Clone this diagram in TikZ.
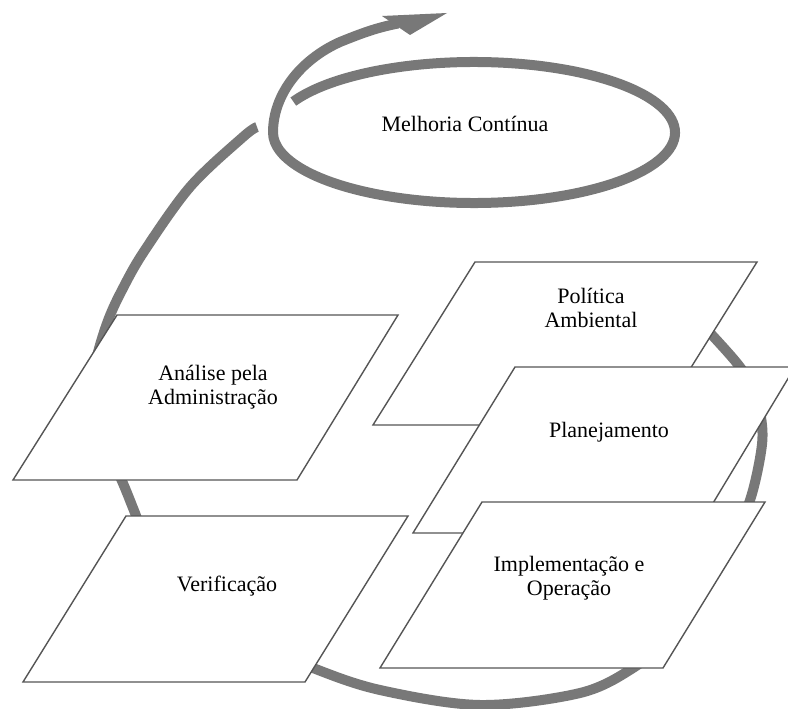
\documentclass[tikz,border=0pt]{standalone}
\usepackage{fontspec}
\setmainfont{Liberation Serif}
\definecolor{cyclegray}{RGB}{120,120,120}
\definecolor{edgegray}{RGB}{85,85,85}
\begin{document}
\begin{tikzpicture}[x=1pt,y=-1pt,
  cyclestroke/.style={draw=cyclegray,line width=10pt,line join=round},
  paral/.style={draw=edgegray,fill=white,line width=1.4pt,line join=miter},
  label/.style={font=\fontsize{22pt}{24pt}\selectfont,align=center,inner sep=0pt,text=black}]
\fill[white] (0,0) rectangle (788,709);
\useasboundingbox (0,0) rectangle (788,709);
\clip (0,0) rectangle (788,709);
% big cycle
\draw[cyclestroke] plot[smooth,tension=0.55] coordinates {
 (690,312) (712,335) (740,367) (755,393) (762,425) (761,452) (751,497)
 (732,545) (700,597) (668,638) (633,668) (580,693) (480,705) (380,690)
 (313,668) (250,640) (190,595) (150,550) (135,513) (122,481) (103,440)
 (91,398) (94,370) (100,345) (109,318) (121,292) (143,253) (190,187)
 (243,137) (257,127)};
% continual improvement loop and arrow
\draw[cyclestroke] (474,132.5) ++(206:201 and 70.5)
  arc[start angle=206,end angle=540,x radius=201,y radius=70.5]
  .. controls (273,95) and (300,60) .. (340,42)
  .. controls (360,34) and (375,28) .. (398,23.5);
\fill[cyclegray] (382,16) -- (447,13) -- (410,35) -- cycle;
\node[label] (melhoria) at (465,124) {Melhoria Contínua};
% stages
\draw[paral] (117,315) -- (398,315) -- (297,480) -- (13,480) -- cycle;
\node[label] (analise) at (213,387) {Análise pela\\Administração};
\draw[paral] (126,516) -- (408,516) -- (305,682) -- (23,682) -- cycle;
\node[label] (verif) at (227,586) {Verificação};
\draw[paral] (475,262) -- (757,262) -- (655,425) -- (373,425) -- cycle;
\node[label] (politica) at (591,308) {Política\\Ambiental};
\draw[paral] (515,367) -- (795,367) -- (695,533) -- (413,533) -- cycle;
\node[label] (planej) at (609,432) {Planejamento};
\draw[paral] (482,502) -- (765,502) -- (663,668) -- (380,668) -- cycle;
\node[label] (implem) at (569,578) {Implementação e\\Operação};
\end{tikzpicture}
\end{document}
